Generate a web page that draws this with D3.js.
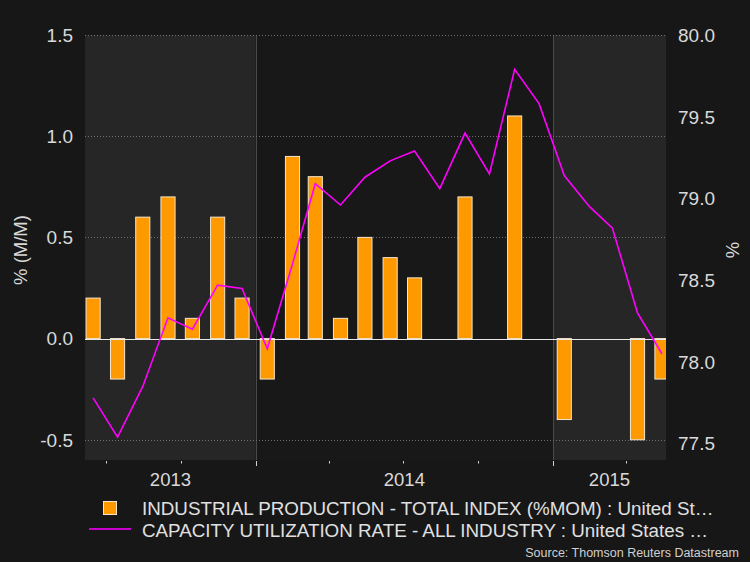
<!DOCTYPE html>
<html>
<head>
<meta charset="utf-8">
<script src="https://cdn.jsdelivr.net/npm/d3@7"></script>
<style>
  html, body { margin: 0; padding: 0; background: #171717; }
  svg { display: block; }
  text { font-family: "Liberation Sans", Arial, sans-serif; }
</style>
</head>
<body>
<svg id="chart" width="750" height="562"></svg>
<script>
// ---- data ----
const months = ["2013-06","2013-07","2013-08","2013-09","2013-10","2013-11","2013-12",
  "2014-01","2014-02","2014-03","2014-04","2014-05","2014-06","2014-07","2014-08","2014-09","2014-10","2014-11","2014-12",
  "2015-01","2015-02","2015-03","2015-04","2015-05"];
const productionMoM = [0.2,-0.2,0.6,0.7,0.1,0.6,0.2,
  -0.2,0.9,0.8,0.1,0.5,0.4,0.3,0.0,0.7,0.0,1.1,0.0,
  -0.4,0.0,0.0,-0.5,-0.2];
const capacityUtil = [77.78,77.54,77.85,78.27,78.20,78.47,78.45,
  78.08,78.60,79.09,78.96,79.13,79.23,79.29,79.06,79.40,79.15,79.79,79.58,
  79.14,78.95,78.82,78.30,78.05];
const leftTicks = [-0.5, 0.0, 0.5, 1.0, 1.5];
const rightTicks = [77.5, 78.0, 78.5, 79.0, 79.5, 80.0];
const years = [2013, 2014, 2015];
const legendLabels = ["INDUSTRIAL PRODUCTION - TOTAL INDEX (%MOM) : United St\u2026",
  "CAPACITY UTILIZATION RATE - ALL INDUSTRY : United States \u2026"];
const sourceText = "Source: Thomson Reuters Datastream";

// ---- layout ----
const W = 750, H = 562;
const plot = {left: 85, right: 666, top: 35, bottom: 460};
const svg = d3.select("#chart");
const fmt = d3.formatLocale({decimal: ".", thousands: ",", grouping: [3], currency: ["", ""], minus: "-"}).format(".1f");

const parse = d3.timeParse("%Y-%m");
const monthDates = months.map(parse);
const mid = d => d3.timeDay.offset(d, 14);

const x = d3.scaleTime()
  .domain([new Date(2013, 5, 5), new Date(2015, 4, 20)])
  .range([plot.left, plot.right]);
const yL = d3.scaleLinear().domain([-0.6, 1.5]).range([plot.bottom, plot.top]);
const yR = d3.scaleLinear().domain([77.4, 80.0]).range([plot.bottom, plot.top]);

// clip
svg.append("defs").append("clipPath").attr("id", "clip")
  .append("rect").attr("x", plot.left).attr("y", plot.top)
  .attr("width", plot.right - plot.left).attr("height", plot.bottom - plot.top);

// year bands
const g = svg.append("g").attr("clip-path", "url(#clip)");
years.forEach((yr, i) => {
  const x0 = Math.max(x(new Date(yr, 0, 1)), plot.left);
  const x1 = Math.min(x(new Date(yr + 1, 0, 1)), plot.right);
  g.append("rect").attr("x", x0).attr("y", plot.top)
    .attr("width", x1 - x0).attr("height", plot.bottom - plot.top)
    .attr("fill", i % 2 === 0 ? "#262626" : "#181818");
});
// year separators
years.slice(1).forEach(yr => {
  const xx = Math.round(x(new Date(yr, 0, 1))) + 0.5;
  g.append("line").attr("x1", xx).attr("x2", xx).attr("y1", plot.top).attr("y2", plot.bottom)
    .attr("stroke", "#4a4a4a").attr("stroke-width", 1);
});

// gridlines
leftTicks.filter(t => t !== 0).forEach(t => {
  const yy = Math.round(yL(t)) + 0.5;
  g.append("line").attr("x1", plot.left).attr("x2", plot.right).attr("y1", yy).attr("y2", yy)
    .attr("stroke", "#6e6e6e").attr("stroke-width", 1).attr("stroke-dasharray", "1,2");
});

// bars
const step = x(new Date(2014, 1, 1)) - x(new Date(2014, 0, 1));
const bw = step * 0.56;
g.selectAll("rect.bar").data(productionMoM).enter().append("rect")
  .attr("class", "bar")
  .attr("x", (d, i) => x(mid(monthDates[i])) - bw / 2)
  .attr("y", d => yL(Math.max(0, d)))
  .attr("width", bw)
  .attr("height", d => Math.abs(yL(d) - yL(0)))
  .attr("fill", "#ff9900")
  .attr("stroke", "#f3e6cc").attr("stroke-width", 1);

// zero line
const y0 = Math.round(yL(0)) + 0.5;
g.append("line").attr("x1", plot.left).attr("x2", plot.right).attr("y1", y0).attr("y2", y0)
  .attr("stroke", "#e8e8e8").attr("stroke-width", 1);

// line
const line = d3.line().x((d, i) => x(mid(monthDates[i]))).y(d => yR(d));
g.append("path").datum(capacityUtil).attr("d", line)
  .attr("fill", "none").attr("stroke", "#ff00ff").attr("stroke-width", 1.6)
  .attr("stroke-linejoin", "miter");

// left axis labels
svg.append("g").selectAll("text").data(leftTicks).enter().append("text")
  .attr("x", 73).attr("y", d => yL(d)).attr("dy", "0.36em")
  .attr("text-anchor", "end").attr("font-size", 19).attr("fill", "#d9d9d9")
  .text(d => fmt(d));

// right axis labels
svg.append("g").selectAll("text").data(rightTicks).enter().append("text")
  .attr("x", 678).attr("y", d => yR(d)).attr("dy", "0.36em")
  .attr("text-anchor", "start").attr("font-size", 19).attr("fill", "#d9d9d9")
  .text(d => fmt(d));

// axis titles
svg.append("text").attr("transform", "translate(27,250) rotate(-90)")
  .attr("text-anchor", "middle").attr("font-size", 18.5).attr("fill", "#d9d9d9").text("% (M/M)");
svg.append("text").attr("transform", "translate(739,250) rotate(-90)")
  .attr("text-anchor", "middle").attr("font-size", 18.5).attr("fill", "#d9d9d9").text("%");

// bottom axis ticks (quarterly)
const qTicks = d3.timeMonth.every(3).range(new Date(2013, 6, 1), new Date(2015, 4, 20));
svg.append("g").selectAll("line").data(qTicks).enter().append("line")
  .attr("x1", d => Math.round(x(d)) + 0.5).attr("x2", d => Math.round(x(d)) + 0.5)
  .attr("y1", plot.bottom + 1).attr("y2", d => d.getMonth() === 0 ? plot.bottom + 6 : plot.bottom + 3.5)
  .attr("stroke", "#d0d0d0").attr("stroke-width", 1);

// year labels
svg.append("g").selectAll("text").data(years).enter().append("text")
  .attr("x", yr => (Math.max(x(new Date(yr, 0, 1)), plot.left) + Math.min(x(new Date(yr + 1, 0, 1)), plot.right)) / 2)
  .attr("y", 486).attr("text-anchor", "middle").attr("font-size", 18.5).attr("fill", "#d9d9d9")
  .text(d => d);

// legend
const lg = svg.append("g");
lg.append("rect").attr("x", 103.5).attr("y", 501.5).attr("width", 13).attr("height", 13)
  .attr("fill", "#ff9900").attr("stroke", "#f3e6cc").attr("stroke-width", 1);
lg.append("line").attr("x1", 89).attr("x2", 131).attr("y1", 529).attr("y2", 529)
  .attr("stroke", "#cc00cc").attr("stroke-width", 2);
lg.selectAll("text").data(legendLabels).enter().append("text")
  .attr("x", 142).attr("y", (d, i) => 515 + i * 21.5)
  .attr("font-size", 18.8).attr("fill", "#e0e0e0")
  .text(d => d);

// source
svg.append("text").attr("x", 739).attr("y", 557).attr("text-anchor", "end")
  .attr("font-size", 12.5).attr("fill", "#d0d0d0").text(sourceText);
</script>
</body>
</html>
